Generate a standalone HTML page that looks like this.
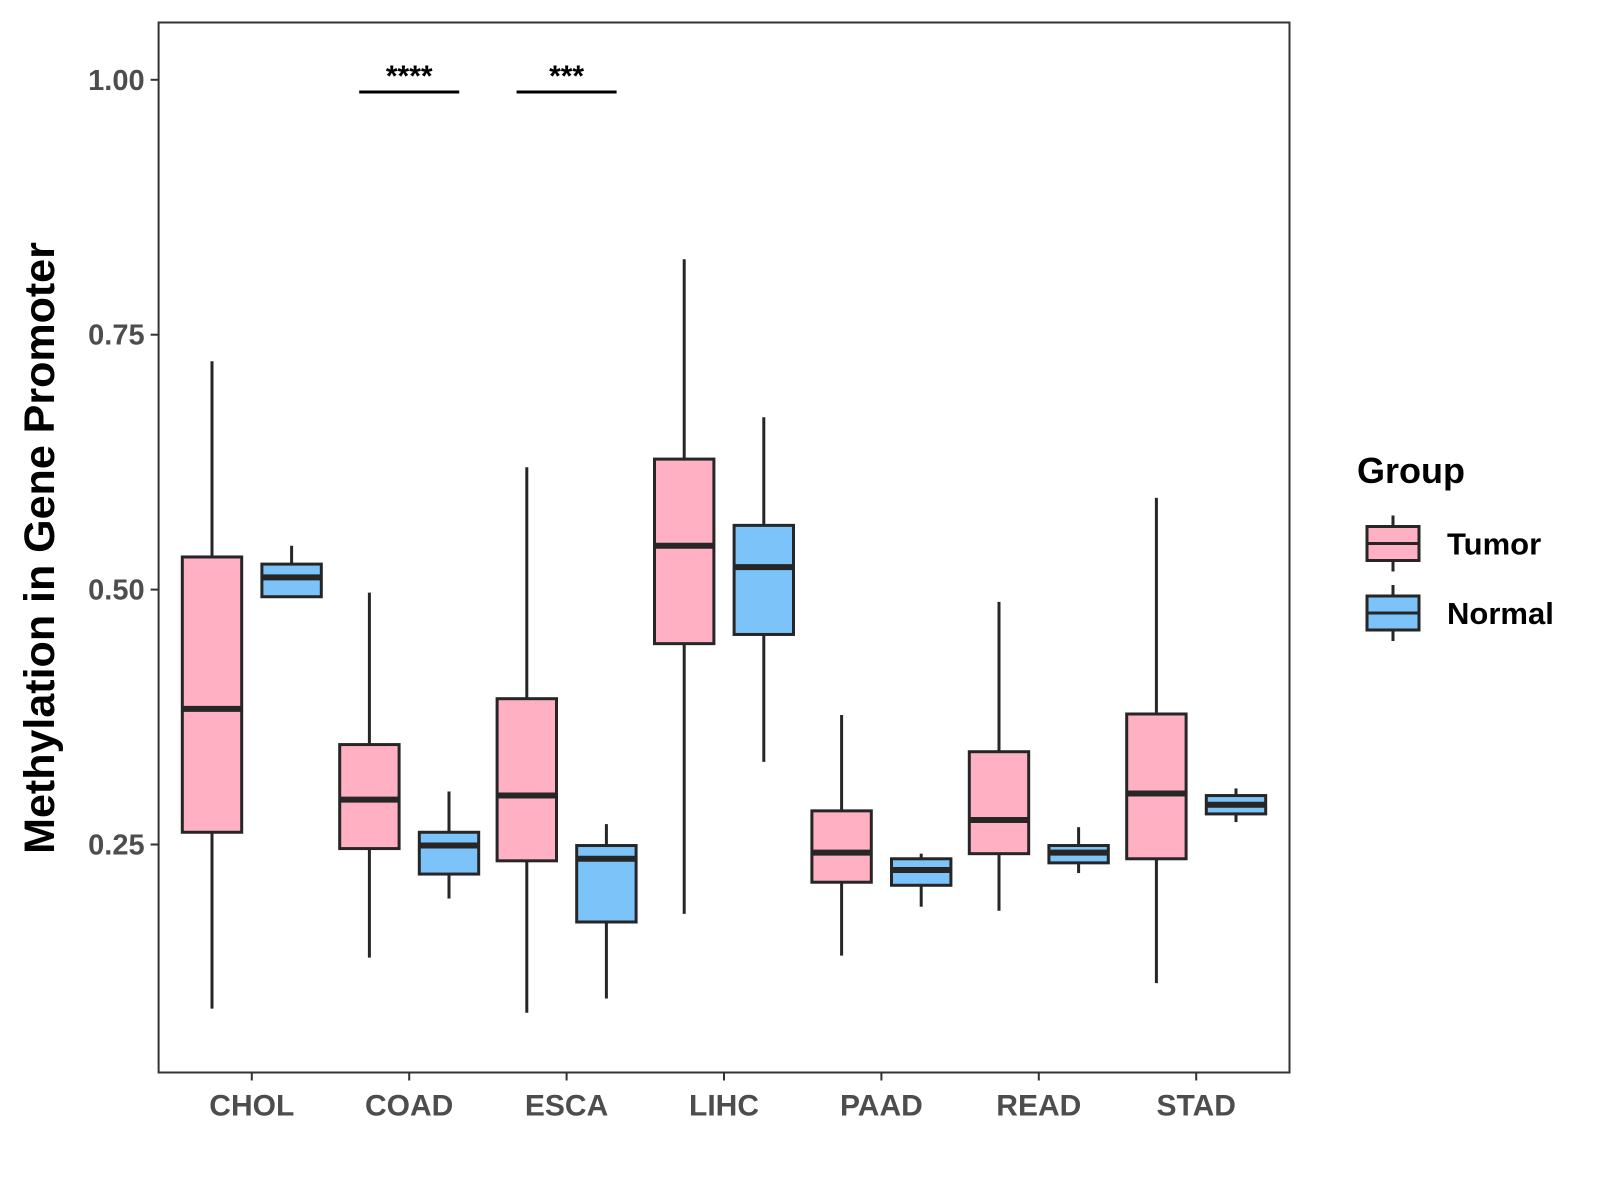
<!DOCTYPE html>
<html><head><meta charset="utf-8"><style>
body{margin:0;background:#fff;}
svg{display:block;font-family:"Liberation Sans",sans-serif;}
</style></head><body>
<svg id="chart" width="1600" height="1200" xmlns="http://www.w3.org/2000/svg"></svg>
<script>
const categories = ["CHOL","COAD","ESCA","LIHC","PAAD","READ","STAD"];
const tumorLow = [0.089,0.139,0.085,0.182,0.141,0.185,0.114];
const tumorQ1 = [0.262,0.246,0.234,0.447,0.213,0.241,0.236];
const tumorMed = [0.383,0.294,0.298,0.543,0.242,0.274,0.300];
const tumorQ3 = [0.532,0.348,0.393,0.628,0.283,0.341,0.378];
const tumorHigh = [0.724,0.497,0.620,0.824,0.377,0.488,0.590];
const normalLow = [0.493,0.197,0.099,0.331,0.189,0.222,0.272];
const normalQ1 = [0.493,0.221,0.174,0.456,0.210,0.232,0.280];
const normalMed = [0.512,0.249,0.236,0.522,0.225,0.242,0.289];
const normalQ3 = [0.525,0.262,0.249,0.563,0.236,0.249,0.298];
const normalHigh = [0.543,0.302,0.270,0.669,0.241,0.267,0.305];
const yTicks = [0.25,0.50,0.75,1.00];
const yTickLabels = ["0.25","0.50","0.75","1.00"];
const sigCats = ["COAD","ESCA"];
const sigLabels = ["****","***"];

const NS="http://www.w3.org/2000/svg";
const svg=document.getElementById('chart');
const P={l:158.6,r:1289.5,t:22.5,b:1072.5};
const y=v=>79.8+(1-v)*1019.6;
const x=i=>251.8+i*157.4;
function mk(tag,attrs,parent){const e=document.createElementNS(NS,tag);for(const k in attrs)e.setAttribute(k,attrs[k]);(parent||svg).appendChild(e);return e;}

const panel=mk('rect',{x:P.l,y:P.t,width:P.r-P.l,height:P.b-P.t,fill:'none',stroke:'#333',"stroke-width":2});



yTicks.forEach((v,i)=>{
  const g=mk('g',{});
  
  
  mk('line',{x1:P.l-8,x2:P.l,y1:y(v),y2:y(v),stroke:'#333',"stroke-width":2},g);
  const t=mk('text',{x:P.l-14,y:y(v)+10,"text-anchor":'end',"font-size":29,"font-weight":'bold',fill:'#4d4d4d'},g);
  t.textContent=yTickLabels[i];
});
categories.forEach((c,i)=>{
  const g=mk('g',{});
  
  
  mk('line',{x1:x(i),x2:x(i),y1:P.b,y2:P.b+8,stroke:'#333',"stroke-width":2},g);
  const t=mk('text',{x:x(i),y:P.b+43,"text-anchor":'middle',"font-size":30,"font-weight":'bold',fill:'#4d4d4d'},g);
  t.textContent=c;
});

function box(cx,lo,q1,md,q3,hi,fill,name){
  const g=mk('g',{});
  
  
  const w=59.4;
  mk('line',{x1:cx,x2:cx,y1:y(hi),y2:y(q3),stroke:'#262626',"stroke-width":3},g);
  mk('line',{x1:cx,x2:cx,y1:y(q1),y2:y(lo),stroke:'#262626',"stroke-width":3},g);
  mk('rect',{x:cx-w/2,y:y(q3),width:w,height:y(q1)-y(q3),fill:fill,stroke:'#262626',"stroke-width":3},g);
  mk('line',{x1:cx-w/2,x2:cx+w/2,y1:y(md),y2:y(md),stroke:'#262626',"stroke-width":6},g);
}
categories.forEach((c,i)=>{
  box(x(i)-39.8,tumorLow[i],tumorQ1[i],tumorMed[i],tumorQ3[i],tumorHigh[i],'#FFB0C3','box-tumor-'+c.toLowerCase());
  box(x(i)+39.8,normalLow[i],normalQ1[i],normalMed[i],normalQ3[i],normalHigh[i],'#7BC3F9','box-normal-'+c.toLowerCase());
});

sigCats.forEach((c,k)=>{
  const i=categories.indexOf(c);
  const g=mk('g',{});
  
  
  mk('line',{x1:x(i)-50,x2:x(i)+50,y1:y(0.988),y2:y(0.988),stroke:'#000',"stroke-width":3},g);
  const t=mk('text',{x:x(i),y:y(0.988)-6,"text-anchor":'middle',"font-size":30,"font-weight":'bold',fill:'#000'},g);
  t.textContent=sigLabels[k];
});

const yt=mk('text',{x:0,y:0,transform:'translate(54,548) rotate(-90)',"text-anchor":'middle',"font-size":43,"font-weight":'bold',fill:'#000'});
yt.textContent='Methylation in Gene Promoter';



const lg=mk('g',{});


const lt=mk('text',{x:1357,y:483,"font-size":36,"font-weight":'bold',fill:'#000'},lg);
lt.textContent='Group';
[['Tumor','#FFB0C3',543.5],['Normal','#7BC3F9',613]].forEach(([n,f,cy])=>{
  const g=mk('g',{},lg);
  
  
  mk('line',{x1:1393,x2:1393,y1:cy-28,y2:cy+28,stroke:'#262626',"stroke-width":3},g);
  mk('rect',{x:1367,y:cy-17,width:52,height:34,fill:f,stroke:'#262626',"stroke-width":3},g);
  mk('line',{x1:1367,x2:1419,y1:cy,y2:cy,stroke:'#262626',"stroke-width":3},g);
  const t=mk('text',{x:1447,y:cy+11,"font-size":31,"font-weight":'bold',fill:'#000'},g);
  t.textContent=n;
});
</script>
</body></html>
